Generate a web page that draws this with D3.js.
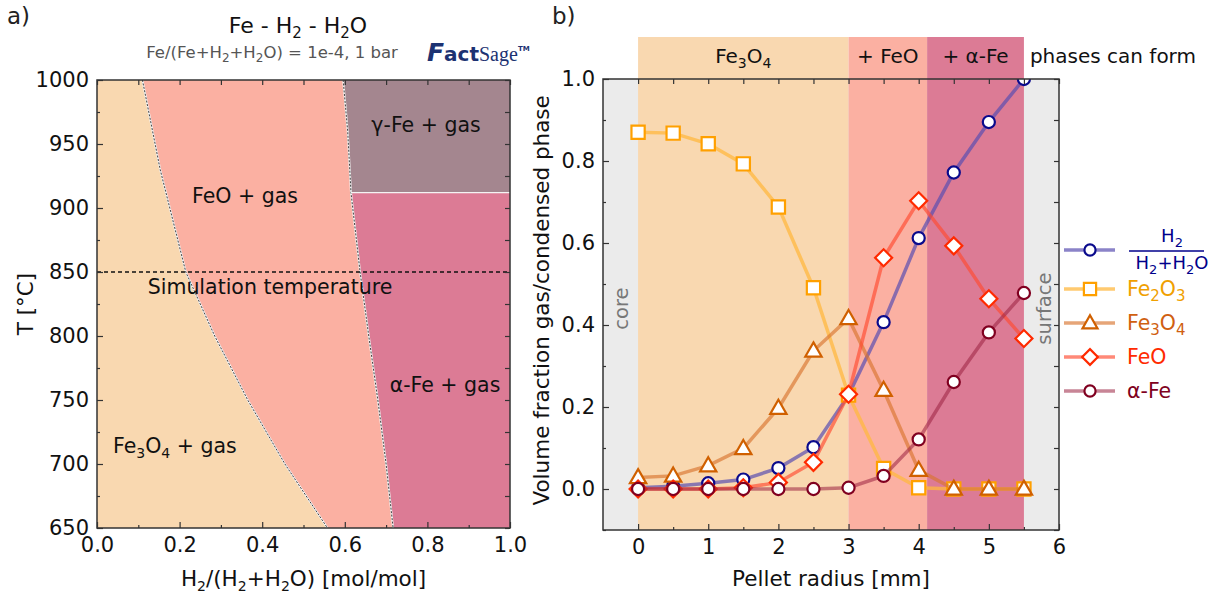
<!DOCTYPE html>
<html>
<head>
<meta charset="utf-8">
<script src="https://cdn.jsdelivr.net/npm/d3@7"></script>
<style>
  body { margin: 0; background: #fff; }
  svg { display: block; }
  text { font-family: "DejaVu Sans", Verdana, sans-serif; }
</style>
</head>
<body>
<svg id="chart" width="1217" height="597"></svg>
<script>
// ---------- Panel a data (phase boundaries) ----------
const magWusT = [1000, 930, 850, 800, 750, 700, 650];
const magWusX = [0.11, 0.153, 0.215, 0.285, 0.365, 0.455, 0.558];
const wusFeT  = [1000, 960, 912, 850, 800, 750, 700, 650];
const wusFeX  = [0.596, 0.607, 0.615, 0.637, 0.658, 0.68, 0.70, 0.717];
const gammaAlphaT = 912;
const simTemp = 850;
const aXTicks = [0, 0.2, 0.4, 0.6, 0.8, 1.0];
const aYTicks = [650, 700, 750, 800, 850, 900, 950, 1000];

// ---------- Panel b data ----------
const radius = [0, 0.5, 1, 1.5, 2, 2.5, 3, 3.5, 4, 4.5, 5, 5.5];
const h2Frac = [0.003, 0.007, 0.014, 0.023, 0.051, 0.102, 0.229, 0.407, 0.612, 0.772, 0.895, 1.0];
const fe2o3  = [0.870, 0.868, 0.842, 0.793, 0.688, 0.491, 0.229, 0.050, 0.003, 0, 0, 0];
const fe3o4  = [0.028, 0.032, 0.057, 0.099, 0.197, 0.337, 0.416, 0.241, 0.046, 0, 0, 0];
const feo    = [0, 0, 0, 0.003, 0.016, 0.065, 0.231, 0.564, 0.703, 0.593, 0.464, 0.367];
const alphaFe= [0, 0, 0, 0, 0, 0, 0.003, 0.032, 0.121, 0.261, 0.382, 0.478];
const bandFrom = [0, 3.0, 4.12];
const bandTo   = [3.0, 4.12, 5.5];
const bXTicks = [0, 1, 2, 3, 4, 5, 6];
const bYTicks = [0, 0.2, 0.4, 0.6, 0.8, 1.0];

const C = {mag: "#f9d8b0", wus: "#fbb0a2", alpha: "#dc7b95", gamma: "#a4868f", gray: "#ebebeb"};
const bandColors = [C.mag, C.wus, C.alpha];

const svg = d3.select("#chart");
const FS = 21;        // tick label size
const TS = 21.5;      // axis title size

function richSub(sel, parts, subSize, shift) {
  const sh = shift || 5;
  parts.forEach(([s, t]) => {
    const ts = sel.append("tspan").text(s).attr("data-t", t);
    if (t === "sub") ts.attr("font-size", subSize);
  });
  const spans = sel.selectAll("tspan").nodes();
  for (let i = 0; i < spans.length; i++) {
    const prev = i > 0 ? spans[i-1].getAttribute("data-t") : "n";
    const cur = spans[i].getAttribute("data-t");
    if (cur === "sub" && prev !== "sub") spans[i].setAttribute("dy", sh);
    if (cur !== "sub" && prev === "sub") spans[i].setAttribute("dy", -sh);
  }
  return sel;
}

// ================= PANEL A =================
const aL = 97, aR = 510, aT = 80, aB = 528;
const ax = d3.scaleLinear().domain([0, 1]).range([aL, aR]);
const ay = d3.scaleLinear().domain([650, 1000]).range([aB, aT]);
const gA = svg.append("g");

const b1 = magWusT.map((t, i) => [ax(magWusX[i]), ay(t)]);
const b2 = wusFeT.map((t, i) => [ax(wusFeX[i]), ay(t)]);
const line = d3.line();
const b2Above = wusFeT.map((t, i) => ({t, x: wusFeX[i]})).filter(d => d.t >= gammaAlphaT);
const b2Below = wusFeT.map((t, i) => ({t, x: wusFeX[i]})).filter(d => d.t <= gammaAlphaT);

gA.append("path").attr("fill", C.mag)
  .attr("d", line([[ax(0), ay(650)], [ax(0), ay(1000)], ...b1]) + "Z");
gA.append("path").attr("fill", C.wus)
  .attr("d", line([...b1, ...b2.slice().reverse()]) + "Z");
gA.append("path").attr("fill", C.alpha)
  .attr("d", line([...b2Below.map(d => [ax(d.x), ay(d.t)]), [ax(1), ay(650)], [ax(1), ay(gammaAlphaT)]]) + "Z");
gA.append("path").attr("fill", C.gamma)
  .attr("d", line([...b2Above.map(d => [ax(d.x), ay(d.t)]), [ax(1), ay(gammaAlphaT)], [ax(1), ay(1000)]]) + "Z");

[b1, b2].forEach(b => {
  gA.append("path").attr("d", line(b)).attr("fill", "none").attr("stroke", "#f2f2f2").attr("stroke-width", 2);
  gA.append("path").attr("d", line(b)).attr("fill", "none").attr("stroke", "#333").attr("stroke-width", 0.9).attr("stroke-dasharray", "2,1.5");
});
gA.append("line").attr("x1", ax(b2Above[b2Above.length-1].x)).attr("x2", ax(1))
  .attr("y1", ay(gammaAlphaT)).attr("y2", ay(gammaAlphaT)).attr("stroke", "#f4f4f4").attr("stroke-width", 1.2);

gA.append("line").attr("x1", ax(0)).attr("x2", ax(1)).attr("y1", ay(simTemp)).attr("y2", ay(simTemp))
  .attr("stroke", "#111").attr("stroke-width", 1.3).attr("stroke-dasharray", "4,3");
gA.append("text").attr("x", 270).attr("y", ay(simTemp) + 22).attr("text-anchor", "middle")
  .attr("font-size", 20.5).attr("fill", "#111").text("Simulation temperature");

const RS = 20.5;
gA.append("text").attr("x", 245).attr("y", 203).attr("text-anchor", "middle").attr("font-size", RS).attr("fill", "#111").text("FeO + gas");
gA.append("text").attr("x", 426).attr("y", 132).attr("text-anchor", "middle").attr("font-size", RS).attr("fill", "#111").text("γ-Fe + gas");
gA.append("text").attr("x", 445).attr("y", 392).attr("text-anchor", "middle").attr("font-size", RS).attr("fill", "#111").text("α-Fe + gas");
richSub(gA.append("text").attr("x", 113).attr("y", 453).attr("font-size", RS).attr("fill", "#111"),
  [["Fe", "n"], ["3", "sub"], ["O", "n"], ["4", "sub"], [" + gas", "n"]], 14);

const frame = "#333";
function addAxes(g, x, y, L, R, T, B, xt, xmin, yt, ymin, xfmt, yfmt) {
  g.append("g").attr("transform", `translate(0,${B})`)
    .call(d3.axisBottom(x).tickValues(xmin).tickSizeInner(-3).tickSizeOuter(0).tickFormat(""));
  g.append("g").attr("transform", `translate(0,${B})`)
    .call(d3.axisBottom(x).tickValues(xt).tickSizeInner(-6).tickSizeOuter(0).tickPadding(9).tickFormat(xfmt))
    .call(s => s.selectAll("text").attr("font-size", FS).attr("fill", "#111").attr("font-family", "DejaVu Sans"));
  g.append("g").attr("transform", `translate(0,${T})`)
    .call(d3.axisTop(x).tickValues(xt.concat(xmin)).tickSizeInner(-5).tickSizeOuter(0).tickFormat(""));
  g.append("g").attr("transform", `translate(${L},0)`)
    .call(d3.axisLeft(y).tickValues(ymin).tickSizeInner(-3).tickSizeOuter(0).tickFormat(""));
  g.append("g").attr("transform", `translate(${L},0)`)
    .call(d3.axisLeft(y).tickValues(yt).tickSizeInner(-6).tickSizeOuter(0).tickPadding(8).tickFormat(yfmt))
    .call(s => s.selectAll("text").attr("font-size", FS).attr("fill", "#111").attr("font-family", "DejaVu Sans"));
  g.append("g").attr("transform", `translate(${R},0)`)
    .call(d3.axisRight(y).tickValues(yt.concat(ymin)).tickSizeInner(-5).tickSizeOuter(0).tickFormat(""));
  g.selectAll(".domain").remove();
  g.selectAll(".tick line").attr("stroke", frame).attr("stroke-width", 1.2);
  g.append("rect").attr("x", L).attr("y", T).attr("width", R - L).attr("height", B - T)
    .attr("fill", "none").attr("stroke", frame).attr("stroke-width", 1.5);
}
const aXMin = [0.1, 0.3, 0.5, 0.7, 0.9];
const aYMin = [675, 725, 775, 825, 875, 925, 975];
addAxes(svg.append("g"), ax, ay, aL, aR, aT, aB, aXTicks, aXMin, aYTicks, aYMin, d3.format(".1f"), d3.format("d"));

svg.append("text").attr("x", 7).attr("y", 24).attr("font-size", 23).attr("fill", "#222").text("a)");
richSub(svg.append("text").attr("x", 298).attr("y", 33).attr("text-anchor", "middle").attr("font-size", 22)
  .attr("font-family", "Liberation Sans").attr("fill", "#111"),
  [["Fe - H", "n"], ["2", "sub"], [" - H", "n"], ["2", "sub"], ["O", "n"]], 15);
richSub(svg.append("text").attr("x", 272).attr("y", 58).attr("text-anchor", "middle").attr("font-size", 16.5)
  .attr("font-family", "Liberation Sans").attr("fill", "#555"),
  [["Fe/(Fe+H", "n"], ["2", "sub"], ["+H", "n"], ["2", "sub"], ["O) = 1e-4, 1 bar", "n"]], 12, 4);
const logo = svg.append("text").attr("x", 427).attr("y", 61).attr("font-family", "Liberation Serif")
  .attr("font-weight", "bold").attr("fill", "#1c3272").attr("font-size", 25);
logo.append("tspan").attr("font-style", "italic").text("F");
logo.append("tspan").attr("font-size", 20).text("act");
logo.append("tspan").attr("font-size", 20).attr("font-family", "Liberation Sans Narrow").attr("font-weight", "normal").text("Sage");
logo.append("tspan").attr("font-size", 7).attr("dy", -10).text("TM");

svg.append("text").attr("transform", `translate(33,${(aT + aB) / 2}) rotate(-90)`).attr("text-anchor", "middle")
  .attr("font-size", TS).attr("fill", "#111").text("T [°C]");
richSub(svg.append("text").attr("x", (aL + aR) / 2).attr("y", 586).attr("text-anchor", "middle").attr("font-size", TS).attr("fill", "#111"),
  [["H", "n"], ["2", "sub"], ["/(H", "n"], ["2", "sub"], ["+H", "n"], ["2", "sub"], ["O) [mol/mol]", "n"]], 14);

// ================= PANEL B =================
const bL = 603, bR = 1059, bT = 79, bB = 530, bandTop = 37;
const bx = d3.scaleLinear().domain([-0.5, 6]).range([bL, bR]);
const by = d3.scaleLinear().domain([-0.1, 1.0]).range([bB, bT]);
const gB = svg.append("g");

gB.append("rect").attr("x", bL).attr("y", bT).attr("width", bR - bL).attr("height", bB - bT).attr("fill", C.gray);
bandFrom.forEach((f, i) => {
  gB.append("rect").attr("x", bx(f)).attr("y", bandTop).attr("width", bx(bandTo[i]) - bx(f))
    .attr("height", bB - bandTop).attr("fill", bandColors[i]);
});
const BS = 20;
richSub(gB.append("text").attr("x", (bx(bandFrom[0]) + bx(bandTo[0])) / 2).attr("y", 63).attr("text-anchor", "middle").attr("font-size", BS).attr("fill", "#111"),
  [["Fe", "n"], ["3", "sub"], ["O", "n"], ["4", "sub"]], 14);
gB.append("text").attr("x", (bx(bandFrom[1]) + bx(bandTo[1])) / 2).attr("y", 63).attr("text-anchor", "middle").attr("font-size", BS).attr("fill", "#111").text("+ FeO");
gB.append("text").attr("x", (bx(bandFrom[2]) + bx(bandTo[2])) / 2).attr("y", 63).attr("text-anchor", "middle").attr("font-size", BS).attr("fill", "#111").text("+ α-Fe");
gB.append("text").attr("x", bx(5.5) + 6).attr("y", 63).attr("font-size", BS).attr("fill", "#111").text("phases can form");

gB.append("text").attr("transform", `translate(628,${by(0.44)}) rotate(-90)`).attr("text-anchor", "middle")
  .attr("font-size", 19.5).attr("fill", "#777").text("core");
gB.append("text").attr("transform", `translate(1051,${by(0.44)}) rotate(-90)`).attr("text-anchor", "middle")
  .attr("font-size", 19.5).attr("fill", "#777").text("surface");

const series = [
  {vals: h2Frac, line: "#5a4fb0", stroke: "#0a0a8c", marker: "circle", lop: 0.7},
  {vals: fe2o3, line: "#ffb840", stroke: "#ffa000", marker: "square", lop: 0.75},
  {vals: fe3o4, line: "#d87530", stroke: "#d06000", marker: "triangle", lop: 0.65},
  {vals: feo, line: "#ff4a30", stroke: "#ff2a00", marker: "diamond", lop: 0.65},
  {vals: alphaFe, line: "#9a2040", stroke: "#800020", marker: "circle", lop: 0.55}
];
const symType = {circle: d3.symbolCircle, square: d3.symbolSquare, triangle: d3.symbolTriangle, diamond: d3.symbolSquare};
const symSize = {circle: 115, square: 175, triangle: 115, diamond: 145};
function drawMarker(g, m, s, cx, cy, scale) {
  const sym = d3.symbol().type(symType[m]).size(symSize[m] * (scale || 1));
  const p = g.append("path").attr("d", sym()).attr("fill", "#fff").attr("stroke", s).attr("stroke-width", 2.2);
  if (m === "diamond") p.attr("transform", `translate(${cx},${cy}) rotate(45)`);
  else if (m === "triangle") p.attr("transform", `translate(${cx},${cy + 1})`);
  else p.attr("transform", `translate(${cx},${cy})`);
}
svg.append("clipPath").attr("id", "bclip").append("rect")
  .attr("x", bL).attr("y", bT).attr("width", bR - bL).attr("height", bB - bT);
const gS = gB.append("g").attr("clip-path", "url(#bclip)");
const lineB = d3.line().x((d, i) => bx(radius[i])).y(d => by(d));
series.forEach(s => {
  gS.append("path").attr("d", lineB(s.vals)).attr("fill", "none").attr("stroke", s.line)
    .attr("stroke-opacity", s.lop).attr("stroke-width", 3.5);
  s.vals.forEach((v, i) => drawMarker(gS, s.marker, s.stroke, bx(radius[i]), by(v)));
});

const bXMin = [0.5, 1.5, 2.5, 3.5, 4.5, 5.5];
const bYMin = [-0.1, 0.1, 0.3, 0.5, 0.7, 0.9];
addAxes(svg.append("g"), bx, by, bL, bR, bT, bB, bXTicks, bXMin, bYTicks, bYMin, d3.format("d"), d3.format(".1f"));

svg.append("text").attr("x", 552).attr("y", 24).attr("font-size", 23).attr("fill", "#222").text("b)");
svg.append("text").attr("transform", `translate(549,${by(0.46)}) rotate(-90)`).attr("text-anchor", "middle")
  .attr("font-size", TS).attr("fill", "#111").text("Volume fraction gas/condensed phase");
svg.append("text").attr("x", bx(2.75)).attr("y", 586).attr("text-anchor", "middle").attr("font-size", TS).attr("fill", "#111").text("Pellet radius [mm]");

// legend
const legY = [250, 289, 323, 357, 391];
const legText = ["#00008b", "#f0a000", "#d06010", "#ff2a00", "#800020"];
const gL = svg.append("g");
series.forEach((s, i) => {
  gL.append("line").attr("x1", 1064).attr("x2", 1115).attr("y1", legY[i]).attr("y2", legY[i])
    .attr("stroke", s.line).attr("stroke-opacity", s.lop).attr("stroke-width", 3.5);
  drawMarker(gL, s.marker, s.stroke, 1090, legY[i], 0.85);
});
const fx = 1172;
richSub(gL.append("text").attr("x", fx).attr("y", 242).attr("text-anchor", "middle").attr("font-size", 18).attr("fill", legText[0]),
  [["H", "n"], ["2", "sub"]], 13);
gL.append("line").attr("x1", 1129).attr("x2", 1204).attr("y1", 251).attr("y2", 251).attr("stroke", legText[0]).attr("stroke-width", 1.3);
richSub(gL.append("text").attr("x", fx).attr("y", 269).attr("text-anchor", "middle").attr("font-size", 18).attr("fill", legText[0]),
  [["H", "n"], ["2", "sub"], ["+H", "n"], ["2", "sub"], ["O", "n"]], 13);
const legLabels = [
  [["Fe", "n"], ["2", "sub"], ["O", "n"], ["3", "sub"]],
  [["Fe", "n"], ["3", "sub"], ["O", "n"], ["4", "sub"]],
  [["FeO", "n"]],
  [["α-Fe", "n"]]
];
legLabels.forEach((parts, i) => {
  richSub(gL.append("text").attr("x", 1127).attr("y", legY[i + 1] + 7).attr("font-size", 20.5).attr("fill", legText[i + 1]),
    parts, 15);
});
</script>
</body>
</html>
